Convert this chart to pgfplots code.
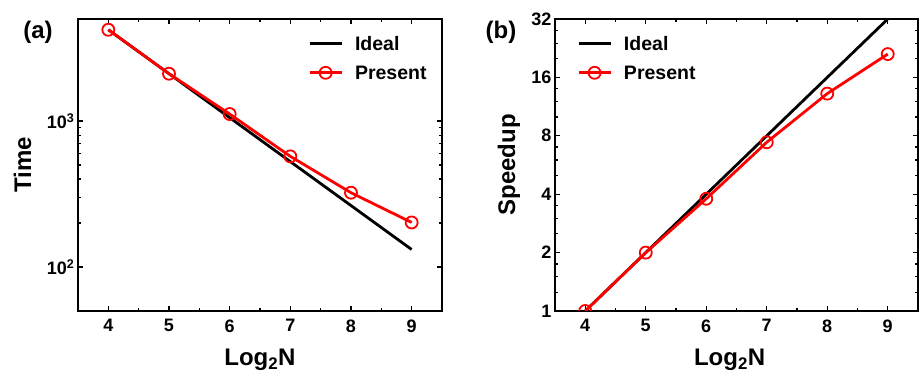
\documentclass[border=0pt]{standalone}
\usepackage{pgfplots}
\pgfplotsset{compat=1.18}
\usepackage{fontspec}
\setmainfont{Liberation Sans}
\begin{document}
\begin{tikzpicture}[x=1pt,y=1pt]
\useasboundingbox (0,0) rectangle (919,375);
\pgfplotsset{
  myax/.style={
    scale only axis, height=292pt,
    xmin=3.5, xmax=9.5, xtick={4,5,6,7,8,9}, minor x tick num=1,
    tick align=inside, major tick length=5pt, minor tick length=3pt,
    axis line style={line width=1.6pt},
    every tick/.style={black, line width=1.3pt},
    ticklabel style={font=\fontsize{18}{21}\selectfont\bfseries},
    /pgf/number format/assume math mode=true,
    label style={font=\fontsize{24}{27}\selectfont\bfseries},
    xlabel={Log\textsubscript{2}N},
    xticklabel style={yshift=-5pt},
    legend style={draw=none, fill=none, anchor=north west, inner sep=0pt,
      font=\fontsize{19.5}{22}\selectfont\bfseries, row sep=16pt,
      nodes={text height=13pt, text depth=0pt, inner sep=0pt}},
    legend cell align=left,
    /tikz/every odd column/.append style={column sep=12pt},
    legend image code/.code={\draw[mark repeat=2,mark phase=2,##1] plot coordinates {(0pt,0pt)(16pt,0pt)(32pt,0pt)};},
  },
  idealst/.style={black, line width=2.8pt, no marks},
  presst/.style={red, line width=2.8pt, mark=o, mark size=6pt,
     mark options={line width=1.8pt, solid}},
}
% Panel (a)
\begin{axis}[myax, at={(78pt,64pt)}, anchor=south west, width=364pt,
  ymode=log, ymin=50, ymax=5000,
  ytick={100,1000}, yticklabels={10\textsuperscript{2},10\textsuperscript{3}},
  ylabel={Time},
  ylabel style={at={(axis description cs:-0.129,0.5)}, anchor=base, rotate=0},
  xlabel style={at={(axis description cs:0.5,-0.188)}, anchor=base},
  legend style={at={(axis description cs:0.632,0.938)}},
]
\addplot[idealst] coordinates {(4,4220) (5,2110) (6,1055) (7,527.5) (8,263.75) (9,131.875)};
\addplot[presst] coordinates {(4,4220) (5,2110) (6,1117) (7,573) (8,323) (9,202)};
\legend{Ideal,Present}
\end{axis}
\node[font=\fontsize{24}{27}\selectfont\bfseries] at (38,343) {(a)};
% Panel (b)
\begin{axis}[myax, at={(555pt,64pt)}, anchor=south west, width=363pt,
  ymode=log, ymin=1, ymax=32,
  ytick={1,2,4,8,16,32}, yticklabels={1,2,4,8,16,32},
  minor ytick={1.25,1.5,1.75,2.5,3,3.5,5,6,7,10,12,14,20,24,28},
  ylabel={Speedup},
  ylabel style={at={(axis description cs:-0.110,0.5)}, anchor=base, rotate=0},
  xlabel style={at={(axis description cs:0.481,-0.188)}, anchor=base},
  legend style={at={(axis description cs:0.0606,0.938)}},
  clip marker paths=true,
]
\addplot[idealst] coordinates {(4,1) (5,2) (6,4) (7,8) (8,16) (9,32)};
\addplot[presst] coordinates {(4,1) (5,2.0) (6,3.79) (7,7.41) (8,13.2) (9,21.1)};
\legend{Ideal,Present}
\end{axis}
\node[font=\fontsize{24}{27}\selectfont\bfseries] at (501,343) {(b)};
\end{tikzpicture}
\end{document}
